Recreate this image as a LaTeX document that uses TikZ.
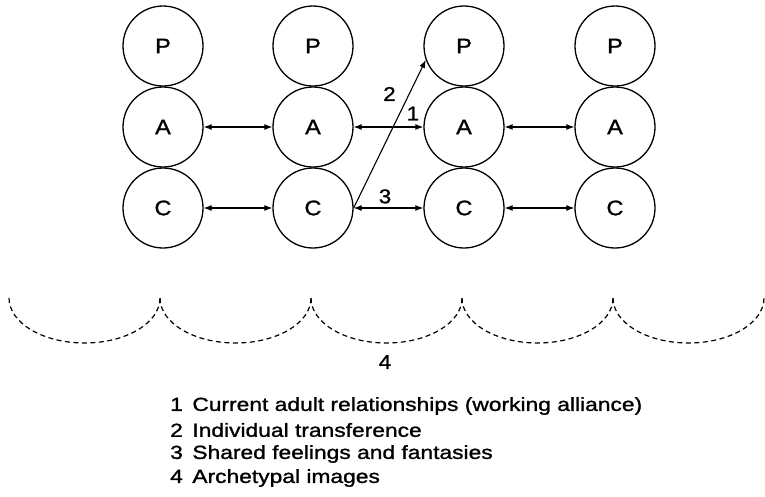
\documentclass[tikz,border=0pt]{standalone}
\usepackage{fontspec}
\setmainfont{Liberation Sans}
\newfontfamily\widefont[FakeStretch=1.12,FakeBold=1.2]{Liberation Sans}
\newfontfamily\keyfont[FakeStretch=1.2,FakeBold=1.2]{Liberation Sans}
\usetikzlibrary{arrows.meta}
\begin{document}
\begin{tikzpicture}[x=1pt,y=-1pt,
  ego/.style={circle,draw,line width=1.3pt,minimum size=80pt,inner sep=0pt,font=\widefont\fontsize{21}{24}\selectfont},
  link/.style={line width=1.1pt,{Latex[length=8pt,width=6pt]}-{Latex[length=8pt,width=6pt]}},
  oneway/.style={line width=1.1pt,-{Latex[length=8pt,width=6pt]}},
  num/.style={font=\widefont\fontsize{20}{24}\selectfont,inner sep=1pt},
  arch/.style={line width=1.2pt,dash pattern=on 5pt off 3.5pt},
  legend/.style={font=\keyfont\fontsize{19}{23}\selectfont,anchor=west,inner sep=0pt}]
\useasboundingbox (0,0) rectangle (765,496);

% four persons, each drawn as Parent / Adult / Child
\foreach \i/\x in {1/163,2/313,3/464,4/615}{
  \node[ego] (P\i) at (\x,46) {P};
  \node[ego] (A\i) at (\x,127) {A};
  \node[ego] (C\i) at (\x,208) {C};
}

% adult-to-adult and child-to-child links
\draw[link] (A1) -- (A2);
\draw[link] (A2) -- node[num,pos=0.85,above=5pt] {1} (A3);
\draw[link] (A3) -- (A4);
\draw[link] (C1) -- (C2);
\draw[link] (C2) -- node[num,pos=0.45,above=3pt] {3} (C3);
\draw[link] (C3) -- (C4);

% individual transference: child to parent
\draw[oneway] (C2.east) -- node[num,pos=0.77,left=12pt] {2} (P3.200);

% archetypal layer beneath the group
\foreach \x in {9,160,311,462,613}{
  \draw[arch] (\x,298) arc[start angle=180,end angle=0,x radius=75.5,y radius=45];
}
\node[num] (four) at (385,362) {4};

% key
\node[legend] (k1) at (170,406) {1\hspace{0.5em}Current adult relationships (working alliance)};
\node[legend] (k2) at (170,430) {2\hspace{0.5em}Individual transference};
\node[legend] (k3) at (170,454) {3\hspace{0.5em}Shared feelings and fantasies};
\node[legend] (k4) at (170,478) {4\hspace{0.5em}Archetypal images};
\end{tikzpicture}
\end{document}
